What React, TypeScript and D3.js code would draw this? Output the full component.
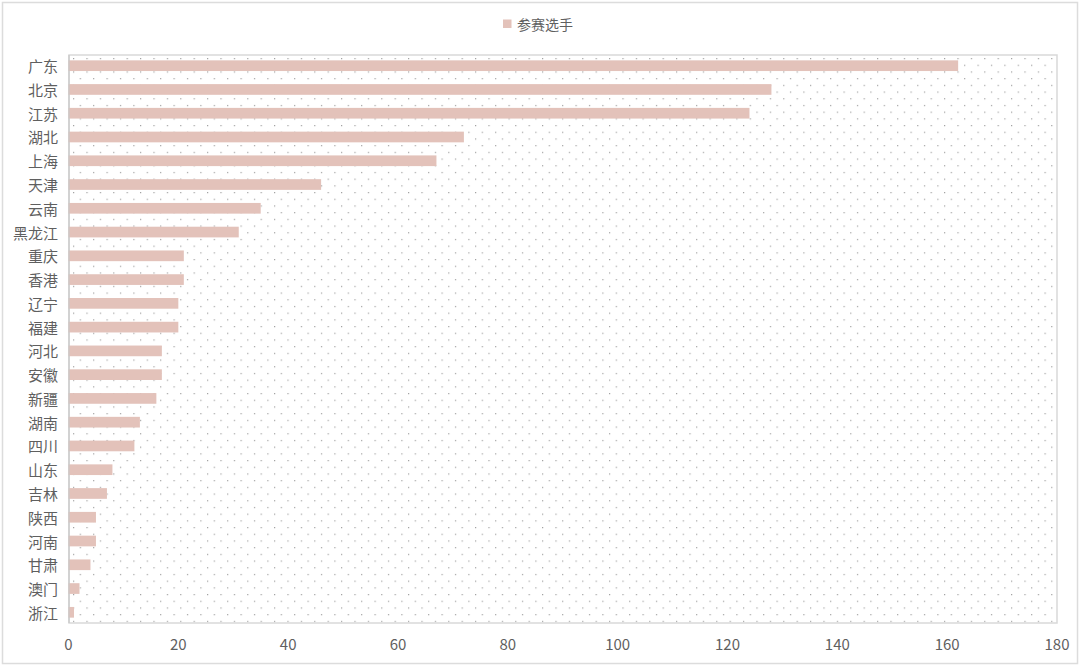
import React, { useEffect } from "react";
import * as d3 from "d3";

const categories = ["广东","北京","江苏","湖北","上海","天津","云南","黑龙江","重庆","香港","辽宁","福建","河北","安徽","新疆","湖南","四川","山东","吉林","陕西","河南","甘肃","澳门","浙江"];
const values = [162,128,124,72,67,46,35,31,21,21,20,20,17,17,16,13,12,8,7,5,5,4,2,1];
const xTicks = [0,20,40,60,80,100,120,140,160,180];
const seriesName = "参赛选手";

const W = 1080, H = 666;
const plot = { left: 69, right: 1057, top: 55, bottom: 623 };
const font = "'Noto Sans CJK SC', 'Noto Sans', sans-serif";
const barColor = "#e3c2ba";
const textColor = "#5f5f5f";

export default function App() {
  useEffect(() => { document.body.style.margin = "0"; }, []);
  const x = d3.scaleLinear().domain([0, 180]).range([plot.left - 0.5, plot.right]);
  const y = d3.scaleBand<string>().domain(categories).range([plot.top, plot.bottom]).paddingInner(0.55).paddingOuter(0.225);
  return (
    <svg width={W} height={H} style={{ display: "block", fontFamily: font }}>
      <defs>
        <pattern id="dots" width={13.4} height={13.4} patternUnits="userSpaceOnUse" x={plot.left + 4} y={plot.top + 3}>
          <rect x={0} y={0} width={1.2} height={1.2} fill="#a0a0a0" />
          <rect x={6.7} y={6.7} width={1.2} height={1.2} fill="#a0a0a0" />
        </pattern>
      </defs>
      <rect x={0} y={0} width={W} height={H} fill="#fff" />
      <rect x={2.5} y={2.5} width={W - 5} height={H - 5} fill="none" stroke="#dcdcdc" strokeWidth={1.5} />
      <rect x={plot.left} y={plot.top} width={plot.right - plot.left} height={plot.bottom - plot.top} fill="url(#dots)" stroke="#d9d9d9" strokeWidth={1.5} />
      {categories.map((c, i) => (
        <rect key={c} x={x(0)} y={y(c)!} width={x(values[i]) - x(0)} height={y.bandwidth()} fill={barColor} />
      ))}
      <line x1={plot.left} x2={plot.left} y1={plot.top} y2={plot.bottom} stroke="#c8c8c8" strokeWidth={1.2} />
      {categories.map((c) => (
        <text key={c} x={58} y={y(c)! + y.bandwidth() / 2} textAnchor="end" dominantBaseline="central" fontSize={15} fill={textColor}>{c}</text>
      ))}
      {xTicks.map((t) => (
        <text key={t} x={x(t)} y={643} textAnchor="middle" dominantBaseline="central" fontSize={15} fill={textColor}>{t}</text>
      ))}
      <rect x={503} y={19.5} width={8.5} height={8.5} fill={barColor} />
      <text x={517} y={24} dominantBaseline="central" fontSize={14} fill={textColor}>{seriesName}</text>
    </svg>
  );
}
